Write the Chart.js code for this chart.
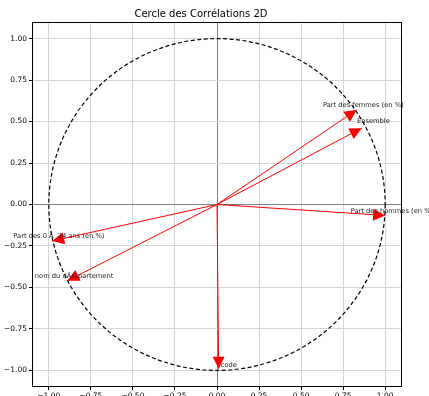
<!DOCTYPE html>
<html>
<head>
<meta charset="utf-8">
<script src="https://cdn.jsdelivr.net/npm/chart.js@4"></script>
<style>
  html, body { margin: 0; padding: 0; background: #fff; overflow: hidden; }
  #wrap { width: 429px; height: 410px; }
</style>
</head>
<body>
<div id="wrap"><canvas id="circle"></canvas></div>
<script>
// variables and where their arrows end
const variables = ['Part des femmes (en %)', 'Ensemble', 'Part des hommes (en %)', 'Part des 0 Ã  24 ans (en %)', 'nom du dÃ©partement', 'code'];
const tipX = [0.83, 0.86, 1.00, -0.98, -0.89, 0.01];
const tipY = [0.57, 0.46, -0.066, -0.22, -0.46, -0.99];
// label anchor (centre of text)
const labelX = [0.87, 0.93, 1.04, -0.94, -0.85, 0.07];
const labelY = [0.60, 0.50, -0.04, -0.19, -0.43, -0.97];
const tickVals = [-1, -0.75, -0.5, -0.25, 0, 0.25, 0.5, 0.75, 1];

const FONT = 'DejaVu Sans';

const datasets = variables.map((v, i) => ({
    label: v,
    data: [{ x: 0, y: 0 }, { x: tipX[i], y: tipY[i] }],
    showLine: true,
    borderColor: '#ff0000',
    borderWidth: 1,
    pointRadius: 0
}));

function fmt(v) {
    return v.toFixed(2).replace('-', '\u2212');
}

// unit circle, arrow heads, labels and the frame
const extras = {
    id: 'extras',
    beforeDatasetsDraw(chart) {
        const { ctx, scales: { x, y }, chartArea: a } = chart;
        const cx = x.getPixelForValue(0), cy = y.getPixelForValue(0);
        const rx = x.getPixelForValue(1) - cx, ry = cy - y.getPixelForValue(1);
        ctx.save();
        ctx.beginPath();
        ctx.rect(a.left, a.top, a.right - a.left, a.bottom - a.top);
        ctx.clip();
        ctx.strokeStyle = '#000';
        ctx.lineWidth = 1.2;
        ctx.setLineDash([4, 2.5]);
        ctx.beginPath();
        ctx.ellipse(cx, cy, rx, ry, 0, 0, Math.PI * 2);
        ctx.stroke();
        ctx.restore();
    },
    afterDatasetsDraw(chart) {
        const { ctx, scales: { x, y }, chartArea: a } = chart;
        const x0 = x.getPixelForValue(0), y0 = y.getPixelForValue(0);
        ctx.save();
        ctx.fillStyle = '#ff0000';
        for (let i = 0; i < variables.length; i++) {
            const px = x.getPixelForValue(tipX[i]), py = y.getPixelForValue(tipY[i]);
            const ang = Math.atan2(py - y0, px - x0);
            const len = 12, half = 6;
            const bx = px - len * Math.cos(ang), by = py - len * Math.sin(ang);
            ctx.beginPath();
            ctx.moveTo(px, py);
            ctx.lineTo(bx + half * Math.sin(ang), by - half * Math.cos(ang));
            ctx.lineTo(bx - half * Math.sin(ang), by + half * Math.cos(ang));
            ctx.closePath();
            ctx.fill();
        }
        ctx.fillStyle = '#222';
        ctx.font = '6.7px "' + FONT + '"';
        ctx.textAlign = 'center';
        ctx.textBaseline = 'middle';
        variables.forEach((v, i) => {
            ctx.fillText(v, x.getPixelForValue(labelX[i]), y.getPixelForValue(labelY[i]));
        });
        ctx.strokeStyle = '#000';
        ctx.lineWidth = 1;
        ctx.setLineDash([]);
        ctx.strokeRect(a.left + 0.5, a.top + 0.5, a.right - a.left - 1, a.bottom - a.top - 1);
        ctx.restore();
    }
};

const gridColor = ctx => (ctx.tick && ctx.tick.value === 0) ? '#808080' : '#d6d6d6';

const ctx = document.getElementById('circle').getContext('2d');
new Chart(ctx, {
    type: 'scatter',
    data: { datasets },
    options: {
        responsive: true,
        maintainAspectRatio: false,
        animation: false,
        layout: { padding: { left: 0, right: 27, top: 0, bottom: 0 } },
        plugins: {
            legend: { display: false },
            tooltip: { enabled: false },
            title: {
                display: true,
                text: 'Cercle des Corrélations 2D',
                color: '#000',
                font: { family: FONT, size: 10, weight: 'normal' },
                padding: { top: 8, bottom: 2 }
            }
        },
        scales: {
            x: {
                type: 'linear',
                min: -1.1,
                max: 1.1,
                afterBuildTicks: s => { s.ticks = tickVals.map(v => ({ value: v })); },
                afterFit: s => { s.height = 23; },
                ticks: { color: '#000', font: { family: FONT, size: 7.5 }, padding: 2, maxRotation: 0, callback: v => fmt(v) },
                grid: { color: gridColor, tickColor: '#000', tickLength: 3 },
                border: { display: false }
            },
            y: {
                type: 'linear',
                min: -1.1,
                max: 1.1,
                afterBuildTicks: s => { s.ticks = tickVals.map(v => ({ value: v })); },
                afterFit: s => { s.width = 32; },
                ticks: { color: '#000', font: { family: FONT, size: 7.5 }, padding: 2, callback: v => fmt(v) },
                grid: { color: gridColor, tickColor: '#000', tickLength: 3 },
                border: { display: false }
            }
        }
    },
    plugins: [extras]
});
</script>
</body>
</html>
